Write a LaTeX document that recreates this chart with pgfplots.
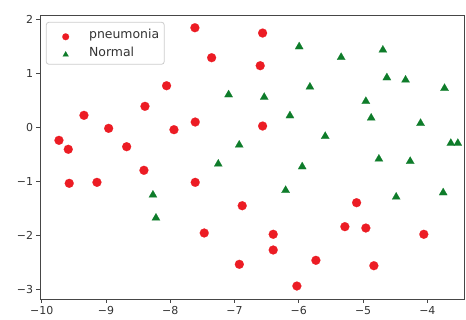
\documentclass[border=0pt]{standalone}
\usepackage{pgfplots}
\pgfplotsset{compat=1.18}
\usepackage{fontspec}
\setmainfont{DejaVu Sans}
\definecolor{pred}{RGB}{236,28,36}
\definecolor{pgreen}{RGB}{14,124,42}
\definecolor{spine}{RGB}{70,70,70}
\pgfplotstableread{
x y
-7.616 1.844
-7.356 1.289
-8.057 0.770
-9.342 0.222
-8.393 0.389
-8.958 -0.019
-7.942 -0.044
-7.611 0.098
-9.731 -0.241
-9.586 -0.407
-8.678 -0.359
-6.563 1.746
-6.600 1.141
-6.563 0.024
-8.409 -0.796
-9.571 -1.037
-9.140 -1.019
-7.611 -1.019
-7.471 -1.957
-6.925 -2.537
-6.880 -1.452
-6.398 -1.981
-6.398 -2.272
-5.734 -2.463
-6.030 -2.939
-5.283 -1.840
-5.101 -1.396
-4.957 -1.865
-4.832 -2.563
-4.055 -1.981
}\pneumonia
\pgfplotstableread{
x y
-7.092 0.604
-7.253 -0.680
-6.927 -0.328
-5.994 1.493
-5.341 1.296
-4.692 1.431
-4.630 0.919
-4.339 0.876
-3.733 0.722
-5.827 0.746
-6.538 0.556
-4.957 0.481
-6.138 0.215
-4.874 0.172
-4.106 0.074
-5.589 -0.167
-3.635 -0.296
-3.526 -0.296
-8.269 -1.254
-8.222 -1.680
-4.754 -0.587
-4.267 -0.630
-5.947 -0.730
-6.205 -1.167
-4.485 -1.291
-3.754 -1.211
}\normal
\begin{document}
\begin{tikzpicture}
\begin{axis}[
  scale only axis,
  width=424bp, height=284.3bp,
  xmin=-10.026, xmax=-3.43,
  ymin=-3.185, ymax=2.08,
  axis line style={spine, line width=0.9bp},
  tick align=outside, tick pos=left,
  major tick length=3.5bp,
  tick style={spine, line width=0.8bp},
  xtick={-10,-9,-8,-7,-6,-5,-4},
  xticklabels={−10,−9,−8,−7,−6,−5,−4},
  ytick={-3,-2,-1,0,1,2},
  yticklabels={−3,−2,−1,0,1,2},
  ticklabel style={font=\fontsize{11}{13}\selectfont, text=black!80},
  legend style={anchor=north west, at={(0.0139,0.9757)},
    draw=black!20, rounded corners=2.5bp, line width=0.8bp,
    inner xsep=3bp, inner ysep=3bp,
    font=\fontsize{12.5}{15}\selectfont, text=black!80,
    nodes={inner xsep=2bp, inner ysep=3.5bp},
    cells={anchor=west}},
  legend image code/.code={
    \path (-16bp,0bp) (21bp,0bp);
    \draw[#1, mark size=3.4bp] plot coordinates {(0bp,-2.5bp)};
  },
]
\addplot[only marks, mark=*, mark size=4.5bp, color=pred,
  mark options={solid, draw=pred, fill=pred, line width=0.1bp}] table {\pneumonia};
\addlegendentry{pneumonia}
\addplot[only marks, mark=triangle*, mark size=4.8bp, color=pgreen,
  mark options={solid, draw=pgreen, fill=pgreen, line width=0.1bp}] table {\normal};
\addlegendentry{Normal}
\end{axis}
\pgfresetboundingbox
\path[use as bounding box] ([shift={(-40bp,-20.7bp)}]current axis.south west) rectangle ([shift={(2bp,15bp)}]current axis.north east);
\end{tikzpicture}
\end{document}
